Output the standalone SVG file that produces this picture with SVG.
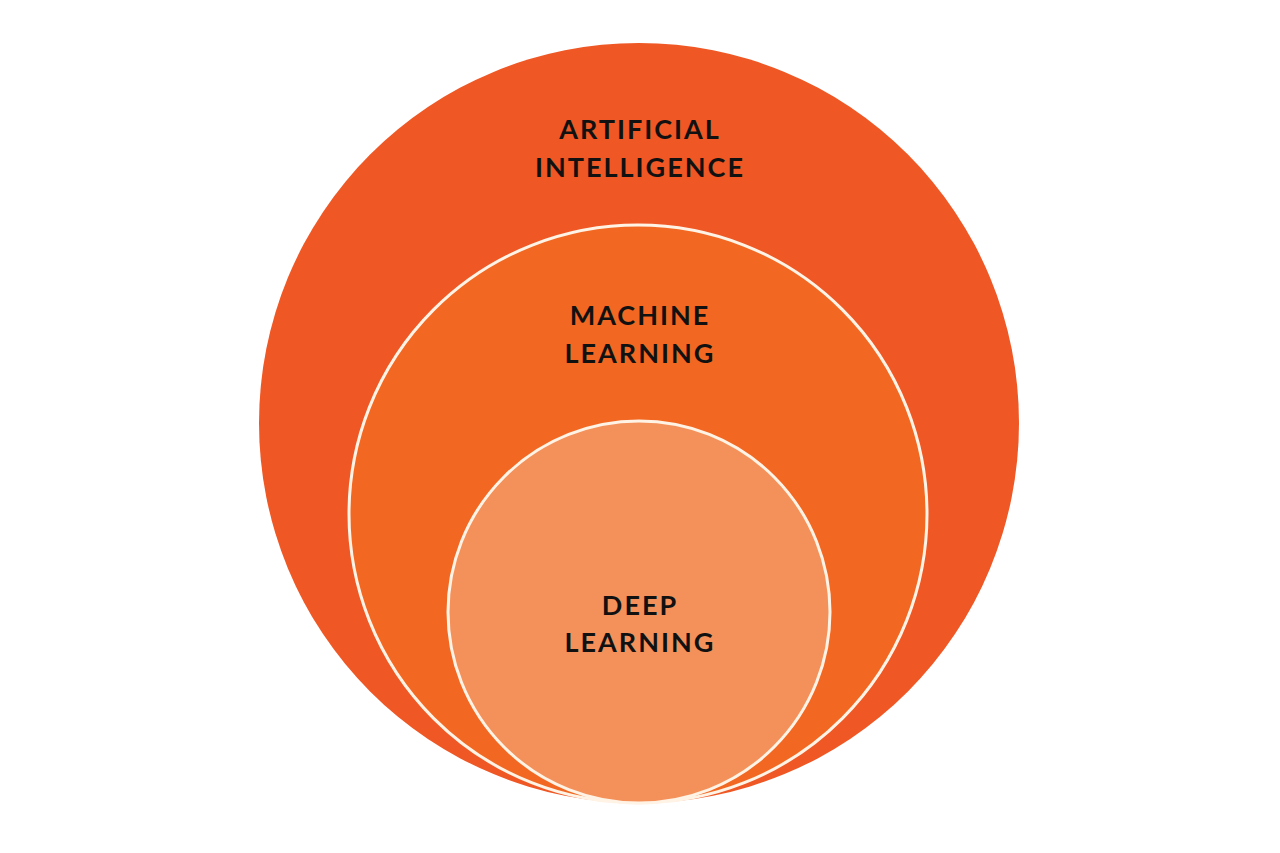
<svg xmlns="http://www.w3.org/2000/svg" width="1280" height="853" viewBox="0 0 1280 853">
<style>
.lbl{font-family:Lato,"Liberation Sans",sans-serif;font-weight:700;font-size:27px;fill:#111;text-anchor:middle;letter-spacing:2px}
.ring{stroke:#FFF3E6;stroke-width:3}
</style>
<rect width="1280" height="853" fill="#ffffff"/>
<g id="ai">
<circle cx="639" cy="423" r="380" fill="#EF5724"/>
<text class="lbl" x="640" y="139">ARTIFICIAL</text>
<text class="lbl" x="640" y="177">INTELLIGENCE</text>
</g>
<g id="ml">
<circle class="ring" cx="638" cy="514" r="289" fill="#F26822"/>
<text class="lbl" x="640" y="325">MACHINE</text>
<text class="lbl" x="640" y="363">LEARNING</text>
</g>
<g id="dl">
<circle class="ring" cx="639" cy="612" r="191" fill="#F4915A"/>
<text class="lbl" x="640" y="615">DEEP</text>
<text class="lbl" x="640" y="652">LEARNING</text>
</g>
</svg>
